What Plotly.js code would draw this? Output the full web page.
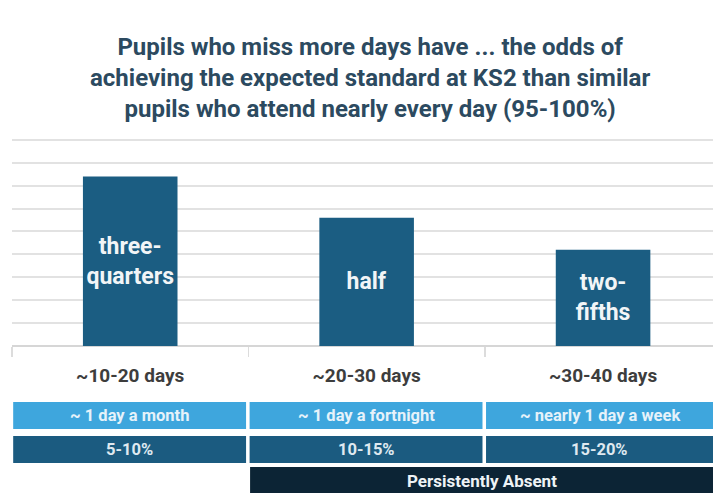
<!DOCTYPE html>
<html>
<head>
<meta charset="utf-8">
<script src="https://cdn.plot.ly/plotly-3.0.1.min.js"></script>
<style>html,body{margin:0;padding:0;background:#fff;}#chart{width:713px;height:493px;}</style>
</head>
<body>
<div id="chart"></div>
<script>
// ---- data ----
const titleLines = [
  "Pupils who miss more days have ... the odds of",
  "achieving the expected standard at KS2 than similar",
  "pupils who attend nearly every day (95-100%)"
];
const categories = ["~10-20 days", "~20-30 days", "~30-40 days"];
const oddsShare = [0.74, 0.56, 0.42];
const barLabels = ["three-<br>quarters", "half", "two-<br>fifths"];
const frequencyLabels = ["~ 1 day a month", "~ 1 day a fortnight", "~ nearly 1 day a week"];
const absenceRates = ["5-10%", "10-15%", "15-20%"];
const persistentLabel = "Persistently Absent";
const persistentFrom = 1; // category index where persistent absence starts

// ---- layout helpers ----
const W = 713, H = 493;
const plotTop = 116, plotBottom = 346;
const py = p => (plotBottom - p) / (plotBottom - plotTop); // pixel y -> paper y
const xRight = 2.465;

const barColor = "#1b5d82";
const lightBlue = "#3ea6dd";
const darkRow = "#1b5b80";
const navy = "#0c2435";
const FONT = "Roboto, Arial, sans-serif";

const shapes = [];
const annotations = [];
function box(x0, x1, y0p, y1p, color, text, fontSize, textColor) {
  shapes.push({type: "rect", xref: "x", yref: "paper", x0: x0, x1: x1,
    y0: py(y1p), y1: py(y0p), fillcolor: color, line: {width: 0}, layer: "above"});
  annotations.push({xref: "x", yref: "paper", x: (x0 + Math.min(x1, xRight)) / 2, y: py((y0p + y1p) / 2),
    text: "<b>" + text + "</b>", showarrow: false, xanchor: "center", yanchor: "middle",
    font: {family: FONT, size: fontSize, color: textColor}});
}
categories.forEach((c, i) => {
  const x0 = i - 0.495, x1 = (i === categories.length - 1) ? i + 0.6 : i + 0.49;
  box(x0, x1, 402, 429, lightBlue, frequencyLabels[i], 16.5, "#e6f2fa");
  box(x0, x1, 436, 463, darkRow, absenceRates[i], 16.5, "#dfe9f0");
});
box(persistentFrom - 0.493, categories.length - 0.4, 467, 500, navy, persistentLabel, 17, "#eef3f6");
// persistent label centred in visible part
annotations[annotations.length - 1].y = py(481);

// title as annotation
annotations.push({xref: "paper", yref: "paper", x: 0.511, y: py(31), xanchor: "center", yanchor: "top",
  text: "<b>" + titleLines.join("<br>") + "</b>", showarrow: false, align: "center",
  font: {family: FONT, size: 24, color: "#2c4a60"}});

const trace = {
  type: "bar",
  x: categories,
  y: oddsShare,
  width: 0.4,
  marker: {color: barColor},
  text: barLabels,
  textposition: "inside",
  insidetextanchor: "middle",
  textangle: 0,
  texttemplate: "<b>%{text}</b>",
  textfont: {family: FONT, size: 23, color: "#f2f5f7"},
  hoverinfo: "none"
};

const layout = {
  width: W, height: H,
  margin: {l: 12, r: 0, t: plotTop, b: H - plotBottom, pad: 0},
  paper_bgcolor: "#ffffff",
  plot_bgcolor: "#ffffff",
  showlegend: false,
  xaxis: {
    type: "category",
    range: [-0.5, xRight],
    tickson: "boundaries",
    ticks: "outside", ticklen: 10, tickwidth: 1.5, tickcolor: "#dcdcdc",
    showgrid: false, showline: false, zeroline: false,
    tickfont: {family: FONT, size: 19, color: "#3d3d3d", weight: "bold"},
    ticklabelstandoff: 16,
    fixedrange: true
  },
  yaxis: {
    range: [0, 1.004],
    dtick: 0.1,
    showticklabels: false,
    ticks: "",
    showgrid: true, gridcolor: "#e2e2e2", gridwidth: 2,
    zeroline: true, zerolinecolor: "#d6d6d6", zerolinewidth: 2,
    fixedrange: true
  },
  shapes: shapes,
  annotations: annotations
};

Plotly.newPlot("chart", [trace], layout, {displayModeBar: false, staticPlot: true});
</script>
</body>
</html>
